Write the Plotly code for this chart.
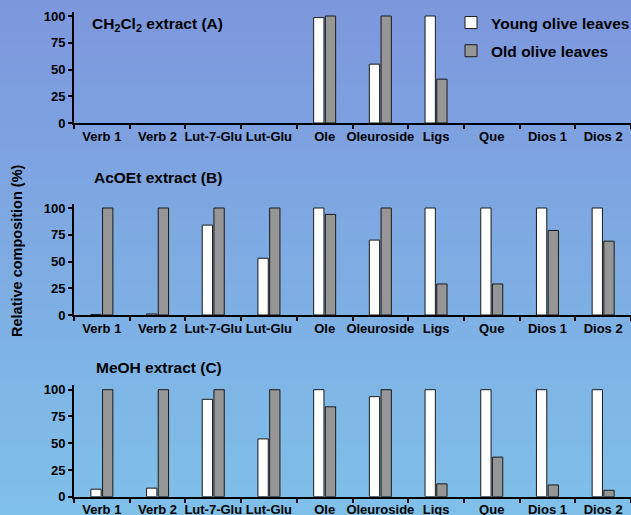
import plotly.graph_objects as go

categories = ["Verb 1", "Verb 2", "Lut-7-Glu", "Lut-Glu", "Ole", "Oleuroside",
              "Ligs", "Que", "Dios 1", "Dios 2"]

young_A = [None, None, None, None, 98.5, 55, 100, None, None, None]
old_A = [None, None, None, None, 100, 100, 41, None, None, None]

young_B = [0.5, 1, 84, 53, 100, 70, 100, 100, 100, 100]
old_B = [100, 100, 100, 100, 94, 100, 29, 29, 79, 69]

young_C = [7, 8, 91, 54, 100, 93.5, 100, 100, 100, 100]
old_C = [100, 100, 100, 100, 84, 100, 12, 37, 11, 6]

y_ticks = [0, 25, 50, 75, 100]
series_names = ["Young olive leaves", "Old olive leaves"]
panel_titles = ["CH<sub>2</sub>Cl<sub>2</sub> extract (A)", "AcOEt extract (B)", "MeOH extract (C)"]

W, H = 631, 515
FONT = "Liberation Sans, Arial, sans-serif"
WHITE = "#ffffff"
GRAY = "#969696"
EDGE = "#1a1a1a"

fig = go.Figure()

panels = [(young_A, old_A), (young_B, old_B), (young_C, old_C)]
for i, (yv, ov) in enumerate(panels):
    ax = "" if i == 0 else str(i + 1)
    fig.add_trace(go.Bar(x=categories, y=yv, name=series_names[0],
                         marker=dict(color=WHITE, line=dict(color=EDGE, width=1)),
                         xaxis="x" + ax, yaxis="y" + ax, showlegend=(i == 0),
                         legendgroup="g1"))
    fig.add_trace(go.Bar(x=categories, y=ov, name=series_names[1],
                         marker=dict(color=GRAY, line=dict(color=EDGE, width=1)),
                         xaxis="x" + ax, yaxis="y" + ax, showlegend=(i == 0),
                         legendgroup="g2"))

# background gradient
shapes = []
N = 80
c0 = (125, 151, 221)
c1 = (127, 192, 233)
for k in range(N):
    t = k / (N - 1)
    col = tuple(round(c0[j] + (c1[j] - c0[j]) * t) for j in range(3))
    shapes.append(dict(type="rect", xref="paper", yref="paper",
                       x0=0, x1=1, y0=1 - (k + 1) / N - 0.002, y1=1 - k / N,
                       fillcolor="rgb(%d,%d,%d)" % col, line=dict(width=0),
                       layer="below"))

x0 = 74 / W
ymax = 104
ph = 107.0 * ymax / 100 / H
bottoms = [(H - 123) / H, (H - 315) / H, (H - 496.7) / H]

layout = dict(
    width=W, height=H, autosize=False,
    margin=dict(l=0, r=0, t=0, b=0, autoexpand=False),
    paper_bgcolor="rgb(126,170,227)",
    plot_bgcolor="rgba(0,0,0,0)",
    barmode="group", bargap=0.58, bargroupgap=0.12,
    font=dict(family=FONT, color="black"),
    shapes=shapes,
    showlegend=True,
    legend=dict(x=451 / W, y=1 - 6 / H, xanchor="left", yanchor="top",
                bgcolor="rgba(0,0,0,0)", tracegroupgap=5,
                font=dict(size=15.5, weight="bold", color="black", family=FONT)),
)

for i in range(3):
    ax = "" if i == 0 else str(i + 1)
    layout["xaxis" + ax] = dict(
        domain=[x0, 1], anchor="y" + ax, type="category",
        showline=True, linecolor="black", linewidth=2,
        ticks="outside", tickson="boundaries", ticklen=4, tickwidth=2, tickcolor="black",
        showgrid=False, zeroline=False, tickangle=0, automargin=False,
        tickfont=dict(size=13, weight="bold", color="black", family=FONT),
        fixedrange=True)
    layout["yaxis" + ax] = dict(
        domain=[bottoms[i], bottoms[i] + ph], anchor="x" + ax,
        range=[0, ymax], tickvals=y_ticks, automargin=False,
        showline=True, linecolor="black", linewidth=2,
        ticks="outside", ticklen=4, tickwidth=2, tickcolor="black",
        showgrid=False, zeroline=False,
        tickfont=dict(size=13, weight="bold", color="black", family=FONT),
        fixedrange=True)

annotations = [
    dict(text=panel_titles[0], xref="paper", yref="paper", x=90 / W, y=1 - 25 / H,
         xanchor="left", yanchor="middle", showarrow=False,
         font=dict(size=15.5, weight="bold", color="black", family=FONT)),
    dict(text=panel_titles[1], xref="paper", yref="paper", x=92 / W, y=1 - 177 / H,
         xanchor="left", yanchor="middle", showarrow=False,
         font=dict(size=15.5, weight="bold", color="black", family=FONT)),
    dict(text=panel_titles[2], xref="paper", yref="paper", x=94 / W, y=1 - 367 / H,
         xanchor="left", yanchor="middle", showarrow=False,
         font=dict(size=15.5, weight="bold", color="black", family=FONT)),
    dict(text="Relative composition (%)", xref="paper", yref="paper", x=17 / W, y=1 - 251 / H,
         xanchor="center", yanchor="middle", showarrow=False, textangle=-90,
         font=dict(size=14.5, weight="bold", color="black", family=FONT)),
]
layout["annotations"] = annotations

fig.update_layout(**layout)
fig.write_html("out.html",
               config={"responsive": False, "displayModeBar": False},
               post_script="document.body.style.margin='0';document.body.style.overflow='hidden';")
